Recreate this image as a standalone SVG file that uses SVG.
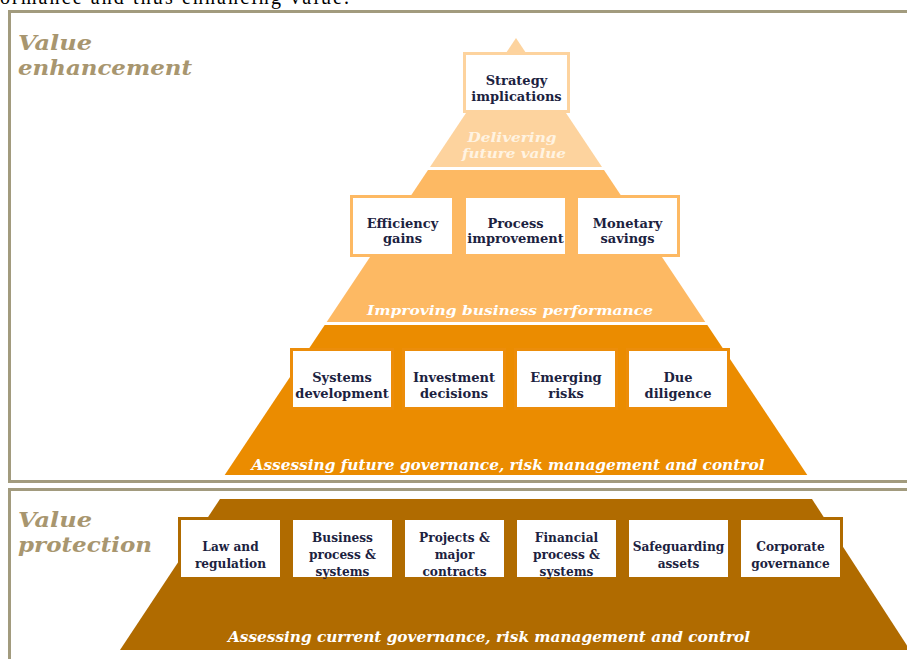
<svg xmlns="http://www.w3.org/2000/svg" width="907" height="659" viewBox="0 0 907 659">
<style>
.frame{fill:none;stroke:#a29b7e;stroke-width:3}
.title{font-family:"DejaVu Serif",serif;font-weight:bold;font-style:italic;font-size:20px;fill:#a8966f}
.box1{fill:#fff;stroke:#fdd39e;stroke-width:3}
.box2{fill:#fff;stroke:#fdb963;stroke-width:3}
.box3{fill:#fff;stroke:#ec8d0a;stroke-width:3}
.box4{fill:#fff;stroke:#b06b00;stroke-width:3}
.bt{font-family:"DejaVu Serif",serif;font-weight:bold;font-size:13px;fill:#1c2240;text-anchor:middle}
.bc{font-family:"DejaVu Serif Condensed","DejaVu Serif",serif;font-weight:bold;font-size:13.5px;fill:#1c2240;text-anchor:middle}
.lab{font-family:"DejaVu Serif",serif;font-weight:bold;font-style:italic;font-size:13px;fill:#fff;text-anchor:middle}
.labc{font-family:"DejaVu Serif Condensed","DejaVu Serif",serif;font-weight:bold;font-style:italic;font-size:15px;fill:#fff;text-anchor:middle}
</style>
<rect width="907" height="659" fill="#fff"/>
<text x="0" y="4" font-family="Liberation Serif, serif" font-size="20" fill="#000" textLength="349" lengthAdjust="spacing">ormance and thus enhancing value.</text>

<g id="frame-enhancement">
<path class="frame" d="M910,11.5 H9.5 V481.5 H910"/>
<text class="title" x="18" y="50" textLength="74" lengthAdjust="spacingAndGlyphs">Value</text>
<text class="title" x="18" y="75" textLength="174" lengthAdjust="spacingAndGlyphs">enhancement</text>
</g>
<g id="frame-protection">
<path class="frame" d="M910,489.5 H9.5 V662"/>
<text class="title" x="18" y="527" textLength="74" lengthAdjust="spacingAndGlyphs">Value</text>
<text class="title" x="18" y="552" textLength="134" lengthAdjust="spacingAndGlyphs">protection</text>
</g>

<g id="tier1">
<polygon points="516,38 602,167 430,167" fill="#fdd39e"/>
<text class="lab" x="512" y="142" style="fill:#fff3e2" textLength="89" lengthAdjust="spacingAndGlyphs">Delivering</text>
<text class="lab" x="514" y="158" style="fill:#fff3e2" textLength="104" lengthAdjust="spacingAndGlyphs">future value</text>
</g>
<g id="tier2">
<polygon points="428,170 604,170 705.3,322 326.7,322" fill="#fdb963"/>
<text class="lab" x="510" y="315" textLength="286" lengthAdjust="spacingAndGlyphs">Improving business performance</text>
</g>
<g id="tier3">
<polygon points="324.7,325 707.3,325 807.3,475 224.7,475" fill="#eb8c00"/>
<text class="lab" x="508" y="470" style="font-size:14px" textLength="513" lengthAdjust="spacingAndGlyphs">Assessing future governance, risk management and control</text>
</g>
<g id="tier4">
<polygon points="220,499 812,499 910,650 120,650" fill="#b06b00"/>
<text class="labc" x="489" y="642" textLength="522" lengthAdjust="spacingAndGlyphs">Assessing current governance, risk management and control</text>
</g>

<g id="strategy-implications">
<rect class="box1" x="464.5" y="53.5" width="104" height="58"/>
<text class="bt" x="516.5" y="85">Strategy</text>
<text class="bt" x="516.5" y="101">implications</text>
</g>

<g id="efficiency-gains">
<rect class="box2" x="351.5" y="196.5" width="102" height="59"/>
<text class="bt" x="402.5" y="228">Efficiency</text>
<text class="bt" x="402.5" y="243">gains</text>
</g>
<g id="process-improvement">
<rect class="box2" x="464.5" y="196.5" width="102" height="59"/>
<text class="bt" x="515.5" y="228">Process</text>
<text class="bt" x="515.5" y="243">improvement</text>
</g>
<g id="monetary-savings">
<rect class="box2" x="576.5" y="196.5" width="102" height="59"/>
<text class="bt" x="627.5" y="228">Monetary</text>
<text class="bt" x="627.5" y="243">savings</text>
</g>

<g id="systems-development">
<rect class="box3" x="291.5" y="349.5" width="101" height="59"/>
<text class="bt" x="342" y="382">Systems</text>
<text class="bt" x="342" y="398">development</text>
</g>
<g id="investment-decisions">
<rect class="box3" x="403.5" y="349.5" width="101" height="59"/>
<text class="bt" x="454" y="382">Investment</text>
<text class="bt" x="454" y="398">decisions</text>
</g>
<g id="emerging-risks">
<rect class="box3" x="515.5" y="349.5" width="101" height="59"/>
<text class="bt" x="566" y="382">Emerging</text>
<text class="bt" x="566" y="398">risks</text>
</g>
<g id="due-diligence">
<rect class="box3" x="627.5" y="349.5" width="101" height="59"/>
<text class="bt" x="678" y="382">Due</text>
<text class="bt" x="678" y="398">diligence</text>
</g>

<g id="law-and-regulation">
<rect class="box4" x="179.5" y="518.5" width="102" height="60"/>
<text class="bc" x="230.5" y="551">Law and</text>
<text class="bc" x="230.5" y="568">regulation</text>
</g>
<g id="business-process-systems">
<rect class="box4" x="291.5" y="518.5" width="102" height="60"/>
<text class="bc" x="342.5" y="542">Business</text>
<text class="bc" x="342.5" y="559">process &amp;</text>
<text class="bc" x="342.5" y="576">systems</text>
</g>
<g id="projects-major-contracts">
<rect class="box4" x="403.5" y="518.5" width="102" height="60"/>
<text class="bc" x="454.5" y="542">Projects &amp;</text>
<text class="bc" x="454.5" y="559">major</text>
<text class="bc" x="454.5" y="576">contracts</text>
</g>
<g id="financial-process-systems">
<rect class="box4" x="515.5" y="518.5" width="102" height="60"/>
<text class="bc" x="566.5" y="542">Financial</text>
<text class="bc" x="566.5" y="559">process &amp;</text>
<text class="bc" x="566.5" y="576">systems</text>
</g>
<g id="safeguarding-assets">
<rect class="box4" x="627.5" y="518.5" width="102" height="60"/>
<text class="bc" x="678.5" y="551">Safeguarding</text>
<text class="bc" x="678.5" y="568">assets</text>
</g>
<g id="corporate-governance">
<rect class="box4" x="739.5" y="518.5" width="102" height="60"/>
<text class="bc" x="790.5" y="551">Corporate</text>
<text class="bc" x="790.5" y="568">governance</text>
</g>
<g id="connectors"></g>
</svg>
